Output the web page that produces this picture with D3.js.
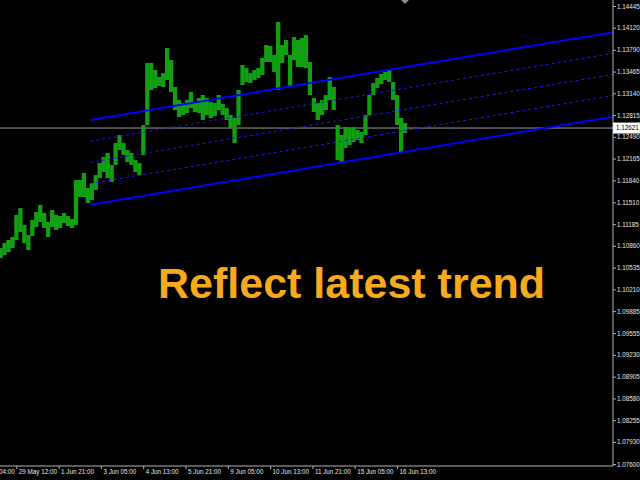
<!DOCTYPE html>
<html>
<head>
<meta charset="utf-8">
<script src="https://cdn.jsdelivr.net/npm/d3@7"></script>
<style>
  html,body{margin:0;padding:0;background:#000;}
  svg{display:block;}
  .ax text{font-family:"Liberation Sans",Arial,sans-serif;font-size:6.3px;fill:#e6e6e6;}
  .ax line{stroke:#b4b4b4;}
</style>
</head>
<body>
<svg id="chart" width="640" height="480"></svg>
<script>
// price axis labels (MT4 style)
const priceTicks = [1.14445,1.14120,1.13790,1.13465,1.13140,1.12815,1.12490,1.12165,1.11840,1.11510,
  1.11185,1.10860,1.10535,1.10210,1.09885,1.09555,1.09230,1.08905,1.08580,1.08255,1.07930,1.07600];

// time axis: hour index from 28 May 04:00 (H1 bars)
const timeTicks = [0,32,64,96,128,160,192,224,256,288,320];
const timeLabels = ["28 May 04:00","29 May 12:00","1 Jun 21:00","3 Jun 05:00","4 Jun 13:00",
  "5 Jun 21:00","9 Jun 05:00","10 Jun 13:00","11 Jun 21:00","15 Jun 05:00","16 Jun 13:00"];

// EURUSD, one column per 3 hourly bars starting at hour 20
const firstBar = 20, barStep = 3;
const highs = [1.10828,1.10903,1.10948,1.10993,1.11321,1.11426,1.11172,1.11022,1.11247,1.11366,
  1.11471,1.11351,1.11217,1.11396,1.11321,1.11306,1.11351,1.11306,1.11262,1.11844,
  1.11844,1.11949,1.11725,1.11800,1.11919,1.12098,1.12188,1.12248,1.12069,1.12397,
  1.12517,1.12397,1.12293,1.12248,1.12143,1.12098,1.12666,1.13593,1.13593,1.13488,
  1.13384,1.13443,1.13817,1.13638,1.13234,1.13040,1.12995,1.13040,1.13159,1.13010,
  1.13070,1.13115,1.13070,1.13010,1.12995,1.13115,1.12980,1.12920,1.12816,1.12771,
  1.13189,1.13563,1.13518,1.13443,1.13488,1.13518,1.13668,1.13862,1.13847,1.13713,
  1.14206,1.13862,1.13937,1.13713,1.13982,1.13937,1.13967,1.14011,1.13608,1.13070,
  1.12995,1.13040,1.13115,1.13384,1.13234,1.12666,1.12517,1.12637,1.12621,1.12637,
  1.12592,1.12562,1.12816,1.13115,1.13294,1.13369,1.13429,1.13458,1.13488,1.13309,
  1.13115,1.12771,1.12696];
const lows = [1.10679,1.10723,1.10768,1.10828,1.10948,1.11067,1.10903,1.10798,1.11007,1.11142,
  1.11217,1.11127,1.10993,1.11142,1.11097,1.11127,1.11202,1.11157,1.11127,1.11172,
  1.11590,1.11590,1.11501,1.11545,1.11695,1.11874,1.11964,1.11874,1.11814,1.12069,
  1.12293,1.12218,1.12113,1.12069,1.11964,1.11919,1.12218,1.12666,1.13189,1.13219,
  1.13249,1.13234,1.13339,1.13159,1.12890,1.12786,1.12816,1.12846,1.12920,1.12861,
  1.12846,1.12741,1.12816,1.12771,1.12801,1.12890,1.12816,1.12741,1.12621,1.12397,
  1.12666,1.13264,1.13309,1.13294,1.13339,1.13369,1.13414,1.13608,1.13608,1.13458,
  1.13189,1.13593,1.13713,1.13234,1.13638,1.13533,1.13533,1.13518,1.13115,1.12861,
  1.12741,1.12816,1.12890,1.13040,1.12890,1.12143,1.12113,1.12323,1.12367,1.12412,
  1.12442,1.12397,1.12517,1.12816,1.13115,1.13219,1.13279,1.13339,1.13309,1.13040,
  1.12666,1.12263,1.12547];

const lastPrice = 1.12621;

// equidistant channel: two anchors on each border line [hour, price]
const channelTop = [[88,1.12741],[483,1.14052]];
const channelBottom = [[88,1.11475],[483,1.12790]];
const channelLevels = [0.25,0.5,0.75];

const title = "Reflect latest trend";

const W=640, H=480, plotR=613, plotB=466;
const svg = d3.select("#chart");
svg.append("rect").attr("width",W).attr("height",H).attr("fill","#000");

const x = d3.scaleLinear().domain([32,320]).range([16.3,397]);
const y = d3.scaleLinear().domain([1.076,1.14445]).range([464,6]);

svg.append("clipPath").attr("id","plot")
  .append("rect").attr("width",plotR).attr("height",plotB);
const g = svg.append("g").attr("clip-path","url(#plot)");

// last price line
g.append("line")
  .attr("x1",0).attr("x2",plotR)
  .attr("y1",y(lastPrice)).attr("y2",y(lastPrice))
  .attr("stroke","#9a9a9a").attr("stroke-width",1);

// bars
const colW = x(barStep)-x(0);
g.selectAll(".bar").data(highs).enter().append("rect")
  .attr("class","bar")
  .attr("x",(d,i)=>x(firstBar+i*barStep)-colW/2)
  .attr("width",colW+0.3)
  .attr("y",d=>y(d))
  .attr("height",(d,i)=>Math.max(1,y(lows[i])-y(d)))
  .attr("fill","#12a012");

// channel
const xEnd = x.invert(plotR+2);
function lineAt(a,t){ // price of line a at hour t
  return a[0][1]+(a[1][1]-a[0][1])*(t-a[0][0])/(a[1][0]-a[0][0]);
}
function channelSeg(f){
  const t0=channelTop[0][0];
  const p=t=>lineAt(channelTop,t)+(lineAt(channelBottom,t)-lineAt(channelTop,t))*f;
  return [[x(t0),y(p(t0))],[x(xEnd),y(p(xEnd))]];
}
g.selectAll(".lvl").data(channelLevels).enter().append("line")
  .attr("class","lvl")
  .each(function(f){
    const s=channelSeg(f);
    d3.select(this).attr("x1",s[0][0]).attr("y1",s[0][1]).attr("x2",s[1][0]).attr("y2",s[1][1]);
  })
  .attr("stroke","#1a1aff").attr("stroke-width",1).attr("stroke-dasharray","3,3");
g.selectAll(".border").data([0,1]).enter().append("line")
  .attr("class","border")
  .each(function(f){
    const s=channelSeg(f);
    d3.select(this).attr("x1",s[0][0]).attr("y1",s[0][1]).attr("x2",s[1][0]).attr("y2",s[1][1]);
  })
  .attr("stroke","#0000ff").attr("stroke-width",2);

// chart shift marker
svg.append("path")
  .attr("d",`M${x(firstBar+(highs.length-1)*barStep)-4},0 h8 l-4,4 z`)
  .attr("fill","#8c8c8c");

// axes
const yAxis = d3.axisRight(y).tickValues(priceTicks).tickSize(3).tickPadding(1)
  .tickFormat(d3.format(".5f"));
svg.append("g").attr("class","ax").attr("transform",`translate(${plotR},0)`)
  .call(yAxis).call(a=>a.select(".domain").remove());

const xAxis = d3.axisBottom(x).tickValues(timeTicks).tickSize(3)
  .tickFormat((d,i)=>timeLabels[i]);
svg.append("g").attr("class","ax").attr("transform",`translate(0,${plotB})`)
  .call(xAxis).call(a=>a.select(".domain").remove())
  .selectAll("text").attr("text-anchor","start").attr("dx",2).attr("y",3.5);

svg.append("path")
  .attr("d",`M0,${plotB}H${plotR}V0`)
  .attr("fill","none").attr("stroke","#b4b4b4").attr("stroke-width",1);

// current price label
const lp = svg.append("g").attr("transform",`translate(${plotR},${y(lastPrice)})`);
lp.append("rect").attr("x",0).attr("y",-5.5).attr("width",27).attr("height",11).attr("fill","#fff");
lp.append("text").attr("x",3).attr("dy","0.35em")
  .attr("font-family","Liberation Sans, Arial, sans-serif").attr("font-size",6.3)
  .attr("fill","#000").text(d3.format(".5f")(lastPrice));

// caption
svg.append("text")
  .attr("x",158).attr("y",298)
  .attr("font-family","Liberation Sans, Arial, sans-serif")
  .attr("font-weight","bold").attr("font-size",43)
  .attr("fill","#f6aa1c")
  .text(title);
</script>
</body>
</html>
